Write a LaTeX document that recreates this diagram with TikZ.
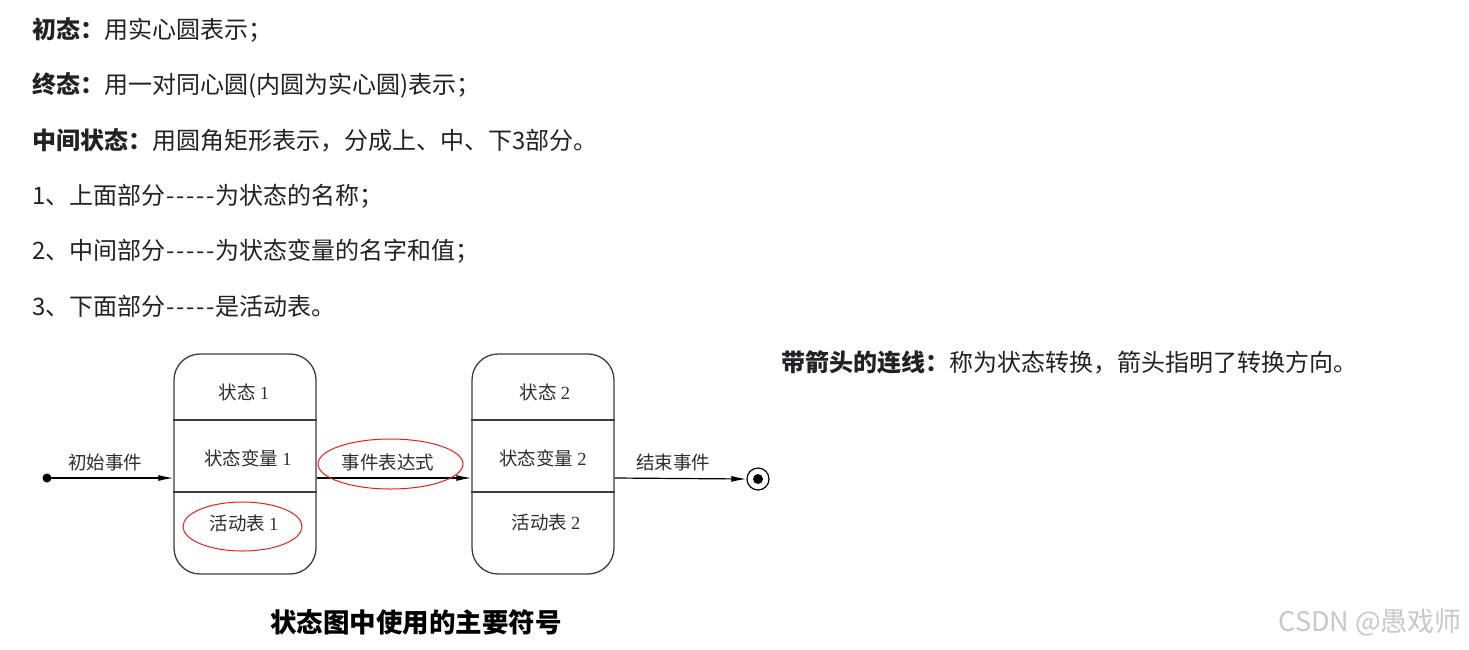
\documentclass[tikz,border=0pt]{standalone}
\usepackage{fontspec}
\setmainfont{Noto Sans CJK SC}
\newfontfamily\serifdg{Liberation Serif}
\usetikzlibrary{arrows.meta,shapes.geometric}
\newcommand\hy{\makebox[10pt]{-}}
\definecolor{txt}{HTML}{222226}
\definecolor{dtxt}{HTML}{2E2E2E}
\definecolor{mark}{HTML}{E8201E}
\definecolor{boxline}{HTML}{3C3C3C}
\definecolor{wm}{HTML}{C8C8C8}
\tikzset{
  body/.style={anchor=west, inner sep=0pt, text=txt, font=\fontsize{24}{28}\selectfont},
  dlabel/.style={inner sep=0pt, text=dtxt, font=\fontsize{18.5}{22}\selectfont},
  statebox/.style={draw=boxline, line width=1.3pt, rounded corners=26pt, minimum width=142pt, minimum height=220pt, inner sep=0pt},
  divider/.style={draw=boxline, line width=1.2pt},
  conn/.style={draw=black, line width=1.2pt, -{Latex[length=15pt,width=6pt]}},
  redmark/.style={ellipse, draw=mark, line width=1pt, inner sep=0pt},
}
\begin{document}
\begin{tikzpicture}[x=1pt,y=-1pt]
\useasboundingbox (0,0) rectangle (1469,649);
\fill[white] (0,0) rectangle (1469,649);

% text lines
\node[body] (t1) at (32,30) {\textbf{初态：}用实心圆表示；};
\node[body] (t2) at (32,85) {\textbf{终态：}用一对同心圆(内圆为实心圆)表示；};
\node[body] (t3) at (32,140) {\textbf{中间状态：}用圆角矩形表示，分成上、中、下3部分。};
\node[body] (t4) at (32,196) {1、上面部分\hy\hy\hy\hy\hy 为状态的名称；};
\node[body] (t5) at (32,251) {2、中间部分\hy\hy\hy\hy\hy 为状态变量的名字和值；};
\node[body] (t6) at (32,306) {3、下面部分\hy\hy\hy\hy\hy 是活动表。};
\node[body] (t7) at (781,362) {\textbf{带箭头的连线：}称为状态转换，箭头指明了转换方向。};

% state boxes
\node[statebox] (s1) at (245,464) {};
\node[statebox] (s2) at (543,464) {};
\draw[divider] (s1.west |- 0,420) -- (s1.east |- 0,420);
\draw[divider] (s1.west |- 0,492) -- (s1.east |- 0,492);
\draw[divider] (s2.west |- 0,420) -- (s2.east |- 0,420);
\draw[divider] (s2.west |- 0,492) -- (s2.east |- 0,492);

\node[dlabel] (n1) at (244,392) {状态 {\serifdg 1}};
\node[dlabel] (v1) at (248,458) {状态变量 {\serifdg 1}};
\node[dlabel] (a1) at (244,523) {活动表 {\serifdg 1}};
\node[dlabel] (n2) at (545,392) {状态 {\serifdg 2}};
\node[dlabel] (v2) at (543,458) {状态变量 {\serifdg 2}};
\node[dlabel] (a2) at (546,522) {活动表 {\serifdg 2}};

% initial and final states
\node[circle, fill=black, inner sep=0pt, minimum size=9pt] (init) at (47,478) {};
\node[circle, draw=black, line width=1.2pt, inner sep=0pt, minimum size=22pt] (fin) at (758,479) {};
\node[circle, fill=black, inner sep=0pt, minimum size=10pt] (finin) at (fin.center) {};

% connectors
\draw[conn] (init.center) -- (init -| s1.west);
\draw[conn] (s1.east |- init) -- (s2.west |- init);
\draw[conn] (s2.east |- init) -- (fin.west);

\node[dlabel] (l1) at (105,462) {初始事件};
\node[dlabel] (l2) at (388,462) {事件表达式};
\node[dlabel] (l3) at (673,462) {结束事件};

% red marks
\node[redmark, minimum width=145pt, minimum height=50pt] (e1) at (390.5,464) {};
\node[redmark, minimum width=119pt, minimum height=49pt] (e2) at (242.5,526.5) {};

% caption
\node[inner sep=0pt, text=black, font=\fontsize{26.5}{30}\selectfont\bfseries] (cap) at (416,622) {状态图中使用的主要符号};

% watermark
\node[inner sep=0pt, text=wm, anchor=east, font=\fontsize{27}{30}\selectfont] (wmk) at (1462,622) {CSDN @愚戏师};
\end{tikzpicture}
\end{document}
